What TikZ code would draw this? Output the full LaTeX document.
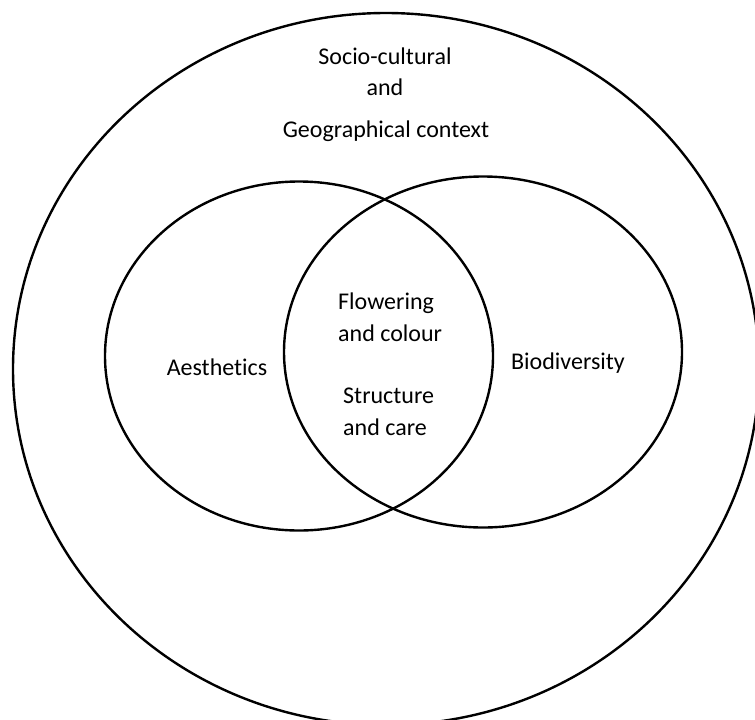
\documentclass[tikz,border=0pt]{standalone}
\usepackage{fontspec}
\setmainfont{Carlito}[Ligatures=NoCommon]
\usetikzlibrary{shapes.geometric}
\begin{document}
\begin{tikzpicture}[x=1pt,y=-1pt,
    set/.style={shape=ellipse,draw=black,line width=2.4pt,inner sep=0pt},
    label/.style={font=\fontsize{24}{32}\selectfont,inner sep=0pt}]
            \useasboundingbox (0,0) rectangle (755,720);
            \clip (0,0) rectangle (755,720);
            \node[set,minimum width=746pt,minimum height=712pt] (context) at (386,369) {};
            \node[set,minimum width=388pt,minimum height=349pt] (aesthetics) at (299,356) {};
            \node[set,minimum width=398pt,minimum height=351pt] (biodiversity) at (483,352) {};
            \node[label] (socio) at (385,56) {Socio-cultural};
            \node[label] (and) at (385,87) {and};
            \node[label] (geo) at (386,131) {Geographical context};
            \node[label] (aes) at (217,367) {Aesthetics};
            \node[label] (bio) at (568,363) {Biodiversity};
            \node[label,align=left,anchor=north west] (flower) at (338,293) {Flowering\\and colour};
            \node[label,align=left,anchor=north west] (care) at (343,388) {Structure\\and care};
        \end{tikzpicture}
\end{document}
